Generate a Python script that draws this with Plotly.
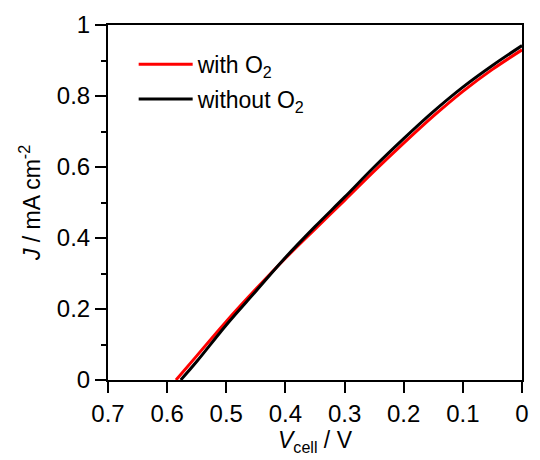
import plotly.graph_objects as go

# Data (cell voltage V, current density mA cm^-2)
v_with = [0.585, 0.55, 0.50, 0.45, 0.40, 0.35, 0.30, 0.25, 0.20, 0.15, 0.10, 0.05, 0.0]
j_with = [0.0, 0.068, 0.165, 0.256, 0.343, 0.425, 0.506, 0.588, 0.667, 0.743, 0.813, 0.875, 0.930]

v_without = [0.577, 0.55, 0.50, 0.45, 0.40, 0.35, 0.30, 0.25, 0.20, 0.15, 0.10, 0.05, 0.0]
j_without = [0.0, 0.052, 0.155, 0.250, 0.345, 0.432, 0.515, 0.600, 0.680, 0.756, 0.825, 0.886, 0.942]

x_ticks = [0.7, 0.6, 0.5, 0.4, 0.3, 0.2, 0.1, 0.0]
x_ticklabels = ["0.7", "0.6", "0.5", "0.4", "0.3", "0.2", "0.1", "0"]
y_ticks = [0, 0.2, 0.4, 0.6, 0.8, 1.0]
y_ticklabels = ["0", "0.2", "0.4", "0.6", "0.8", "1"]

FONT = "Arial, Liberation Sans, sans-serif"

fig = go.Figure()
fig.add_trace(go.Scatter(x=v_with, y=j_with, mode="lines", name="with O<sub>2</sub>",
                         legendgroup="a",
                         line=dict(color="#ff0000", width=3, shape="spline", smoothing=1.0)))
fig.add_trace(go.Scatter(x=v_without, y=j_without, mode="lines", name="without O<sub>2</sub>",
                         legendgroup="b",
                         line=dict(color="#000000", width=3, shape="spline", smoothing=1.0)))

fig.update_layout(
    width=540, height=460,
    margin=dict(l=108, r=11, t=23, b=80),
    paper_bgcolor="white", plot_bgcolor="white",
    font=dict(family=FONT, size=24, color="black"),
    showlegend=True,
    legend=dict(x=0.062, y=0.95, xanchor="left", yanchor="top",
                bgcolor="rgba(0,0,0,0)", font=dict(family=FONT, size=23, color="black"),
                itemwidth=54, tracegroupgap=2),
)
fig.update_xaxes(
    range=[0.7, 0.0], tickvals=x_ticks, ticktext=x_ticklabels,
    tickfont=dict(family=FONT, size=24, color="black"),
    showgrid=False, zeroline=False,
    showline=True, linecolor="black", linewidth=2, mirror=True,
    ticks="outside", ticklen=11, tickwidth=2, tickcolor="black",
    title=dict(text="<i>V</i><sub>cell</sub> / V", font=dict(family=FONT, size=23, color="black"), standoff=6),
)
fig.update_yaxes(
    range=[0, 1.0], tickvals=y_ticks, ticktext=y_ticklabels,
    tickfont=dict(family=FONT, size=24, color="black"),
    showgrid=False, zeroline=False,
    showline=True, linecolor="black", linewidth=2, mirror=True,
    ticks="outside", ticklen=11, tickwidth=2, tickcolor="black",
    minor=dict(dtick=0.1, tick0=0, ticks="outside", ticklen=5, tickwidth=2, tickcolor="black", showgrid=False),
    title=dict(text="<i>J</i> / mA cm<sup>-2</sup>", font=dict(family=FONT, size=23, color="black"), standoff=10),
)

fig.write_html("out.html")
